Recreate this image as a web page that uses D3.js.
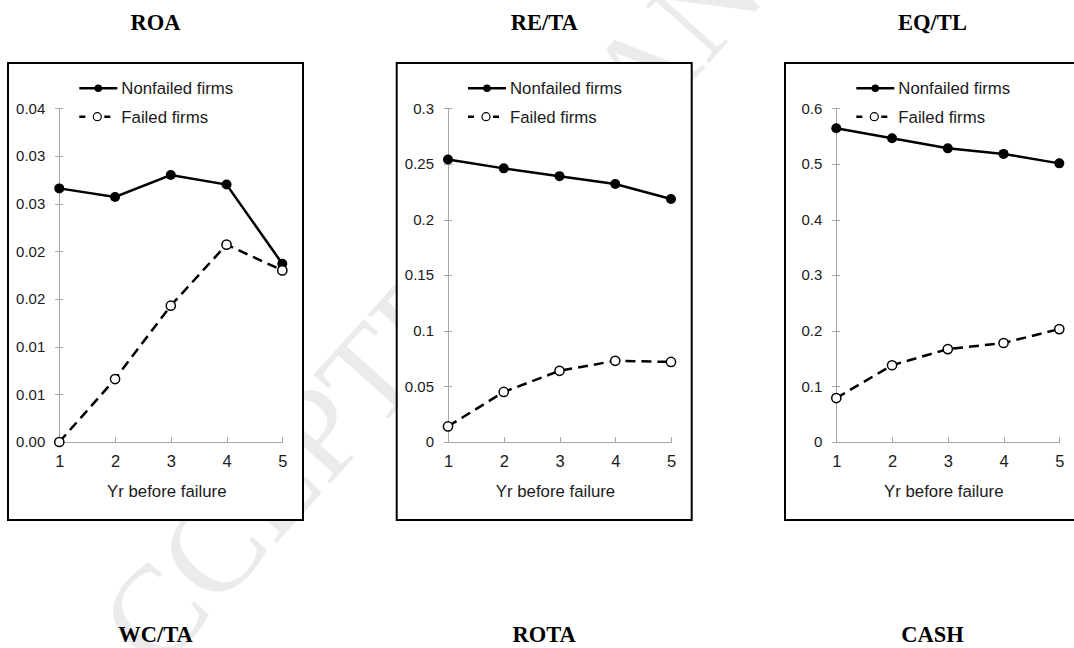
<!DOCTYPE html>
<meta charset="utf-8">
<style>
body { margin: 0; background: #fff; }
svg { display: block; }
.axis path, .axis line { stroke: #a6a6a6; stroke-width: 1; shape-rendering: crispEdges; }
.title { font-family: "Liberation Serif", "Times New Roman", serif; font-weight: bold; font-size: 22.5px; text-anchor: middle; }
.legend text, .xlabel { font-family: "Liberation Sans", Arial, sans-serif; font-size: 16.8px; fill: #1a1a1a; }
</style>
<body>
<script src="https://cdn.jsdelivr.net/npm/d3@7"></script>
<script>

var years = [1, 2, 3, 4, 5];
var topTitles = ["ROA", "RE/TA", "EQ/TL"];
var bottomTitles = ["WC/TA", "ROTA", "CASH"];
var seriesNames = ["Nonfailed firms", "Failed firms"];

var roaNonfailed = [0.0266, 0.0257, 0.0280, 0.0270, 0.0187];
var roaFailed    = [0.0000, 0.0066, 0.0143, 0.0207, 0.0180];
var retaNonfailed = [0.254, 0.246, 0.239, 0.232, 0.2185];
var retaFailed    = [0.014, 0.045, 0.064, 0.073, 0.072];
var eqtlNonfailed = [0.564, 0.546, 0.528, 0.518, 0.501];
var eqtlFailed    = [0.079, 0.138, 0.167, 0.178, 0.203];

var roaTicks = [0, 0.005, 0.01, 0.015, 0.02, 0.025, 0.03, 0.035];
var roaTickLabels = ["0.00", "0.01", "0.01", "0.02", "0.02", "0.03", "0.03", "0.04"];
var retaTicks = [0, 0.05, 0.1, 0.15, 0.2, 0.25, 0.3];
var retaTickLabels = ["0", "0.05", "0.1", "0.15", "0.2", "0.25", "0.3"];
var eqtlTicks = [0, 0.1, 0.2, 0.3, 0.4, 0.5, 0.6];
var eqtlTickLabels = ["0", "0.1", "0.2", "0.3", "0.4", "0.5", "0.6"];

var panels = [
  {title: topTitles[0], nonfailed: roaNonfailed, failed: roaFailed, ticks: roaTicks, labels: roaTickLabels},
  {title: topTitles[1], nonfailed: retaNonfailed, failed: retaFailed, ticks: retaTicks, labels: retaTickLabels},
  {title: topTitles[2], nonfailed: eqtlNonfailed, failed: eqtlFailed, ticks: eqtlTicks, labels: eqtlTickLabels}
];

var W = 1074, H = 648;
var panelX = [8, 396.7, 785];
var boxTop = 63, boxW = 295, boxH = 457;
var axisX = 51.3, plotW = 223, plotTop = 45.3, plotBottom = 379;

var svg = d3.select("body").append("svg")
    .attr("width", W)
    .attr("height", H);

// watermark behind the panels
svg.append("text")
    .attr("transform", "translate(95,745) rotate(-48)")
    .attr("font-family", "Liberation Serif, Times New Roman, serif")
    .attr("font-size", 130)
    .attr("fill", "#ebebeb")
    .text("ACCEPTED MANUSCRIPT");

var x = d3.scaleLinear().domain([1, 5]).range([axisX, axisX + plotW]);

panels.forEach(function(p, i) {
  var g = svg.append("g").attr("transform", "translate(" + panelX[i] + "," + boxTop + ")");

  var y = d3.scaleLinear()
      .domain([0, p.ticks[p.ticks.length - 1]])
      .range([plotBottom, plotTop]);

  g.append("rect")
      .attr("width", boxW).attr("height", boxH)
      .attr("fill", "#fff").attr("stroke", "#000").attr("stroke-width", 2);

  svg.append("text").attr("class", "title")
      .attr("x", panelX[i] + boxW / 2).attr("y", 30)
      .text(p.title);
  svg.append("text").attr("class", "title")
      .attr("x", panelX[i] + boxW / 2).attr("y", 642)
      .text(bottomTitles[i]);

  var ya = g.append("g").attr("class", "axis")
      .attr("transform", "translate(" + axisX + ",0)")
      .call(d3.axisLeft(y).tickValues(p.ticks)
        .tickFormat(function(d, k) { return p.labels[k]; })
        .tickSize(4).tickSizeOuter(0).tickPadding(10));
  ya.attr("font-size", 15).attr("font-family", "Liberation Sans, Arial, sans-serif");
  ya.selectAll(".tick line").attr("x1", 4);
  ya.selectAll(".tick text").attr("fill", "#1a1a1a");

  var xa = g.append("g").attr("class", "axis")
      .attr("transform", "translate(0," + plotBottom + ")")
      .call(d3.axisBottom(x).tickValues(years).tickFormat(d3.format("d"))
        .tickSizeInner(-5).tickSizeOuter(0).tickPadding(13));
  xa.attr("font-size", 16.5).attr("font-family", "Liberation Sans, Arial, sans-serif");
  xa.selectAll(".tick text").attr("fill", "#1a1a1a");

  g.append("text").attr("class", "xlabel")
      .attr("x", axisX + plotW / 2 - 4).attr("y", 434)
      .attr("text-anchor", "middle")
      .text("Yr before failure");

  var line = d3.line()
      .x(function(d, k) { return x(years[k]); })
      .y(function(d) { return y(d); });

  g.append("path").datum(p.nonfailed)
      .attr("d", line).attr("fill", "none")
      .attr("stroke", "#000").attr("stroke-width", 2.5);
  g.append("path").datum(p.failed)
      .attr("d", line).attr("fill", "none")
      .attr("stroke", "#000").attr("stroke-width", 2.5)
      .attr("stroke-dasharray", "10,6");

  g.selectAll(".dotN").data(p.nonfailed).enter().append("circle")
      .attr("cx", function(d, k) { return x(years[k]); })
      .attr("cy", function(d) { return y(d); })
      .attr("r", 5).attr("fill", "#000");
  g.selectAll(".dotF").data(p.failed).enter().append("circle")
      .attr("cx", function(d, k) { return x(years[k]); })
      .attr("cy", function(d) { return y(d); })
      .attr("r", 4.6).attr("fill", "#fff")
      .attr("stroke", "#000").attr("stroke-width", 1.5);

  // legend
  var lg = g.append("g").attr("class", "legend")
      .attr("transform", "translate(" + axisX + ",0)");
  lg.append("line").attr("x1", 20).attr("x2", 58).attr("y1", 25.3).attr("y2", 25.3)
      .attr("stroke", "#000").attr("stroke-width", 2.5);
  lg.append("circle").attr("cx", 39).attr("cy", 25.3).attr("r", 3.8).attr("fill", "#000");
  lg.append("text").attr("x", 62).attr("y", 25.3).attr("dy", "0.35em").text(seriesNames[0]);

  lg.append("line").attr("x1", 20).attr("x2", 51).attr("y1", 53.7).attr("y2", 53.7)
      .attr("stroke", "#000").attr("stroke-width", 2.5)
      .attr("stroke-dasharray", "6,19,6");
  lg.append("circle").attr("cx", 38).attr("cy", 53.7).attr("r", 4).attr("fill", "#fff")
      .attr("stroke", "#000").attr("stroke-width", 1.2);
  lg.append("text").attr("x", 62).attr("y", 53.7).attr("dy", "0.35em").text(seriesNames[1]);
});
</script>
</body>
